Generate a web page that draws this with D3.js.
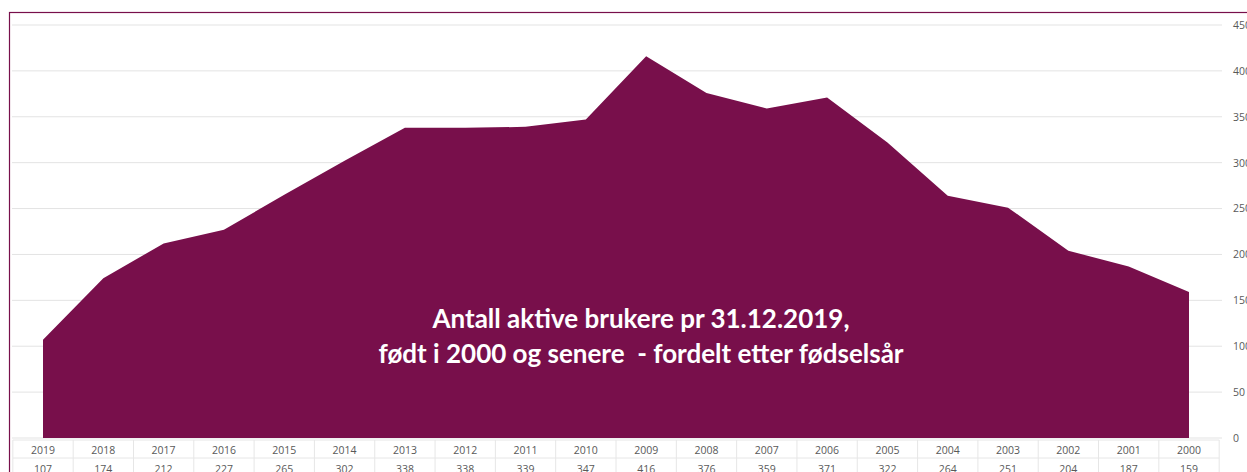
<!DOCTYPE html>
<html>
<head>
<meta charset="utf-8">
<script src="https://cdn.jsdelivr.net/npm/d3@7"></script>
<style>
  body { margin: 0; background: #fff; overflow: hidden; }
  svg { display: block; }
</style>
</head>
<body>
<svg id="chart"></svg>
<script>
var width = 1247;
var height = 472;

// data
var years = ["2019", "2018", "2017", "2016", "2015", "2014", "2013", "2012", "2011", "2010",
             "2009", "2008", "2007", "2006", "2005", "2004", "2003", "2002", "2001", "2000"];
var users = [107, 174, 212, 227, 265, 302, 338, 338, 339, 347,
             416, 376, 359, 371, 322, 264, 251, 204, 187, 159];
var yTicks = [0, 50, 100, 150, 200, 250, 300, 350, 400, 450];
var titleLines = ["Antall aktive brukere pr 31.12.2019,",
                  "født i 2000 og senere  - fordelt etter fødselsår"];

var maroon = "#780f4b";

var svg = d3.select("#chart")
    .attr("width", width)
    .attr("height", height);

var x = d3.scalePoint()
    .domain(years)
    .range([43, 1189]);

var step = x.step();

var y = d3.scaleLinear()
    .domain([0, 450])
    .range([438, 25]);

// gridlines
svg.append("g")
    .selectAll("line")
    .data(yTicks)
    .enter().append("line")
    .attr("x1", 12)
    .attr("x2", 1222)
    .attr("y1", function (d) { return y(d); })
    .attr("y2", function (d) { return y(d); })
    .style("stroke", "#e3e3e3")
    .style("stroke-width", 1);

// area
var area = d3.area()
    .x(function (d, i) { return x(years[i]); })
    .y0(y(0))
    .y1(function (d) { return y(d); });

svg.append("path")
    .datum(users)
    .attr("d", area)
    .attr("fill", maroon);

// right axis (cut off by the right edge, as in the original)
var yAxis = d3.axisRight(y)
    .tickValues(yTicks)
    .tickSize(0)
    .tickPadding(0);

var axisG = svg.append("g")
    .attr("transform", "translate(1233,0)")
    .call(yAxis);
axisG.select(".domain").remove();
axisG.selectAll("text")
    .style("font-family", "'Open Sans', sans-serif")
    .style("font-size", "10.5px")
    .style("fill", "#595959");

// data table under the chart
var table = svg.append("g");
var left = x(years[0]) - step / 2;
var right = x(years[years.length - 1]) + step / 2;

[440, 458].forEach(function (ly) {
    table.append("line")
        .attr("x1", left).attr("x2", right)
        .attr("y1", ly).attr("y2", ly)
        .style("stroke", "#e6e6e6");
});

table.selectAll("line.sep")
    .data(d3.range(years.length + 1))
    .enter().append("line")
    .attr("class", "sep")
    .attr("x1", function (i) { return left + i * step; })
    .attr("x2", function (i) { return left + i * step; })
    .attr("y1", 440)
    .attr("y2", height)
    .style("stroke", "#e6e6e6");

table.selectAll("text.yr")
    .data(years)
    .enter().append("text")
    .attr("class", "yr")
    .attr("x", function (d) { return x(d); })
    .attr("y", 453.5)
    .attr("text-anchor", "middle")
    .style("font-family", "'Open Sans', sans-serif")
    .style("font-size", "10.5px")
    .style("fill", "#595959")
    .text(function (d) { return d; });

table.selectAll("text.val")
    .data(users)
    .enter().append("text")
    .attr("class", "val")
    .attr("x", function (d, i) { return x(years[i]); })
    .attr("y", 472.5)
    .attr("text-anchor", "middle")
    .style("font-family", "'Open Sans', sans-serif")
    .style("font-size", "10.5px")
    .style("fill", "#595959")
    .text(function (d) { return d; });

// title inside the area
svg.append("g")
    .selectAll("text")
    .data(titleLines)
    .enter().append("text")
    .attr("x", 641)
    .attr("y", function (d, i) { return 328 + i * 35; })
    .attr("text-anchor", "middle")
    .style("font-family", "Lato, sans-serif")
    .style("font-weight", "bold")
    .style("font-size", "26px")
    .style("fill", "#ffffff")
    .style("white-space", "pre")
    .text(function (d) { return d; });

// outer border
svg.append("rect")
    .attr("x", 9.5)
    .attr("y", 12.5)
    .attr("width", 1260)
    .attr("height", 480)
    .attr("fill", "none")
    .style("stroke", maroon)
    .style("stroke-width", 1.2);
</script>
</body>
</html>
